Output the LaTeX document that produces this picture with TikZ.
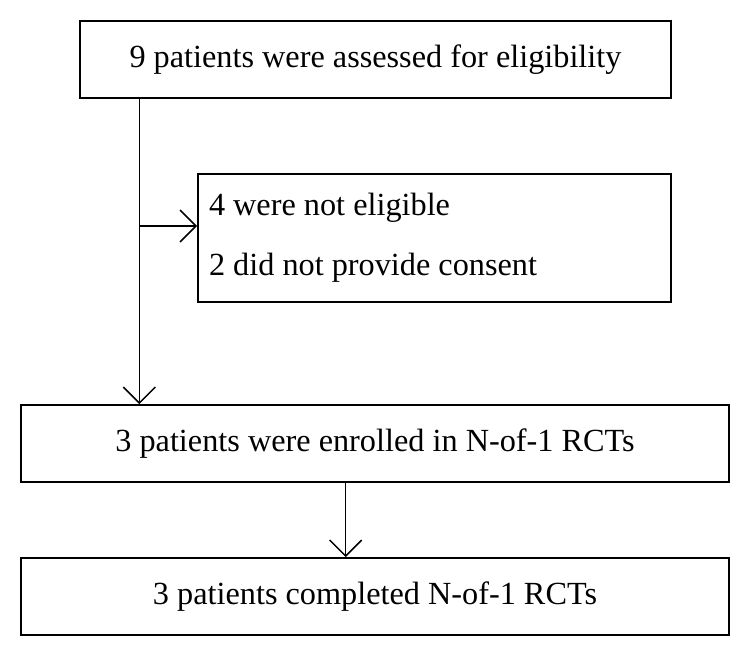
\documentclass[tikz,border=0pt]{standalone}
\usepackage{fontspec}
\setmainfont{Liberation Serif}
\usetikzlibrary{arrows.meta}

\begin{document}
\begin{tikzpicture}[x=0.75pt,y=-0.75pt,
  >={Straight Barb[length=12pt,width=24pt]},
  main node/.style={draw,line width=1.4pt,inner sep=0pt,
    font=\fontsize{24.2}{45}\selectfont},
  wide node/.style={main node,minimum width=531pt,minimum height=57.75pt}]
  \useasboundingbox (0,0) rectangle (751,656);
  \node[main node,minimum width=443.25pt,minimum height=57.75pt]
                     (assess) at (375.5,59.5)  {9 patients were assessed for eligibility};
  \node[main node,minimum width=354.75pt,minimum height=96pt,
        align=flush left,text width=338.25pt]
                     (excl)   at (434.5,238)   {4 were not eligible\\2 did not provide consent};
  \node[wide node]   (enrol)  at (375,443.5)   {3 patients were enrolled in N-of-1 RCTs};
  \node[wide node]   (done)   at (375,596.5)   {3 patients completed N-of-1 RCTs};
  \coordinate        (split)  at (139.3,226);
  \coordinate        (down)   at (345.7,482);
  \path[line width=1.1pt]
    (assess.south -| split) edge (split)
    (split) edge [->] (enrol.north -| split)
    (split) edge [->] (split -| excl.west)
    (down) edge [->] (down |- done.north);
\end{tikzpicture}
\end{document}
